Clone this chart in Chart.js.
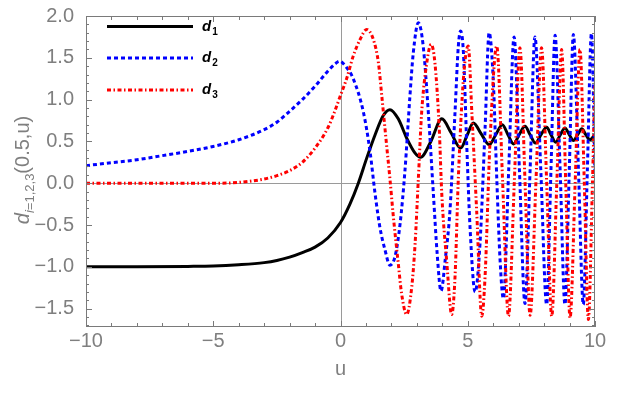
<!DOCTYPE html>
<html>
<head>
<meta charset="utf-8">
<script src="https://cdn.jsdelivr.net/npm/chart.js@4.4.1/dist/chart.umd.min.js"></script>
<style>
  html,body{margin:0;padding:0;background:#fff;}
  #c{display:block;}
</style>
</head>
<body>
<canvas id="c" width="628" height="393"></canvas>
<script>
// values
const xTicks = [-10, -5, 0, 5, 10];
const yTicks = [-1.5, -1.0, -0.5, 0.0, 0.5, 1.0, 1.5, 2.0];

const d1U = [-10,-8,-6,-5,-4,-3,-2.5,-2,-1.5,-1,-0.5,0,0.37,0.7,1.03,1.36,1.68,1.94,2.27,2.6,2.93,3.15,3.55,3.98,4.35,4.72,4.97,5.22,5.53,5.84,6.1,6.36,6.58,6.8,7.02,7.25,7.45,7.66,7.88,8.1,8.27,8.45,8.64,8.82,8.99,9.15,9.32,9.48,9.64,9.8,10];
const d1V = [-1.0,-1.0,-0.995,-0.99,-0.975,-0.95,-0.925,-0.885,-0.83,-0.765,-0.655,-0.47,-0.25,0.0,0.30,0.58,0.81,0.88,0.77,0.54,0.36,0.31,0.5,0.77,0.6,0.42,0.57,0.72,0.59,0.46,0.58,0.70,0.58,0.47,0.58,0.68,0.58,0.48,0.58,0.67,0.58,0.49,0.58,0.66,0.58,0.51,0.58,0.65,0.58,0.52,0.58];

const d2U = [-10,-9,-8,-7,-6,-5,-4,-3,-2.5,-2,-1.5,-1,-0.5,-0.2,-0.05,0.25,0.5,0.9,1.16,1.36,1.55,1.75,1.94,2.14,2.34,2.53,2.73,2.86,3.06,3.25,3.45,3.65,3.8,3.95,4.12,4.3,4.5,4.63,4.72,4.83,4.96,5.09,5.29,5.48,5.68,5.84,6.0,6.14,6.27,6.4,6.61,6.82,7.03,7.25,7.45,7.64,7.87,8.1,8.27,8.43,8.63,8.82,8.99,9.15,9.35,9.54,9.7,9.86,10];
const d2V = [0.21,0.245,0.28,0.33,0.38,0.44,0.52,0.64,0.73,0.86,1.0,1.16,1.34,1.43,1.46,1.38,1.25,0.85,0.38,-0.13,-0.53,-0.80,-0.98,-0.88,-0.49,0.14,1.05,1.56,1.92,1.64,0.85,-0.13,-0.85,-1.29,-0.9,-0.33,0.85,1.64,1.82,1.56,0.46,-0.53,-1.30,-0.73,0.65,1.80,1.25,0.06,-0.92,-1.38,0.17,1.75,0.16,-1.44,0.16,1.75,0.16,-1.45,0.16,1.77,0.16,-1.45,0.16,1.78,0.16,-1.45,0.16,1.79,0.1];

const d3U = [-10,-7,-5,-4,-3,-2.5,-2,-1.5,-1,-0.5,-0.25,0,0.24,0.5,0.77,1.03,1.29,1.49,1.62,1.81,1.94,2.08,2.27,2.4,2.6,2.8,2.93,3.06,3.19,3.39,3.56,3.71,3.88,3.98,4.17,4.37,4.5,4.63,4.83,5.02,5.16,5.35,5.55,5.68,5.87,6.14,6.37,6.6,6.83,7.05,7.25,7.45,7.68,7.9,8.1,8.3,8.5,8.69,8.85,9.02,9.22,9.41,9.58,9.74,9.9,10];
const d3V = [0,0,0,0.01,0.05,0.09,0.15,0.25,0.42,0.66,0.84,1.05,1.25,1.52,1.72,1.84,1.72,1.44,1.05,0.46,0.06,-0.41,-0.96,-1.32,-1.57,-1.24,-0.73,0.06,0.85,1.44,1.66,1.44,0.65,-0.13,-0.92,-1.57,-1.12,0.06,1.25,1.64,0.85,-0.33,-1.59,-1.12,0.46,1.64,0.02,-1.59,0.02,1.62,0.02,-1.58,0.02,1.62,0.02,-1.59,0.01,1.60,0.0,-1.61,0.0,1.60,0.0,-1.63,0.0,1.2];

const pts = (us, vs) => us.map((u,i)=>({x:u, y:vs[i]}));
const minus = s => String(s).replace('-', '\u2212');
const FONT = '"Liberation Sans", Arial, sans-serif';
const GRAY = '#7f7f7f';

// frame, inner ticks and the two zero axes
const framePlugin = {
  id:'frame',
  beforeDatasetsDraw(chart){
    const {ctx, chartArea:a, scales:{x,y}} = chart;
    ctx.save();
    ctx.strokeStyle='#9a9a9a'; ctx.lineWidth=1;
    const x0=Math.round(x.getPixelForValue(0))+0.5, y0=Math.round(y.getPixelForValue(0))+0.5;
    ctx.beginPath(); ctx.moveTo(x0,a.top); ctx.lineTo(x0,a.bottom);
    ctx.moveTo(a.left,y0); ctx.lineTo(a.right,y0); ctx.stroke();
    ctx.restore();
  },
  afterDatasetsDraw(chart){
    const {ctx, chartArea:a, scales:{x,y}} = chart;
    ctx.save();
    ctx.strokeStyle='#7a7a7a'; ctx.lineWidth=1;
    ctx.strokeRect(Math.round(a.left)+0.5, Math.round(a.top)+0.5, Math.round(a.right-a.left)-1, Math.round(a.bottom-a.top)-1);
    ctx.beginPath();
    for(let u=-10; u<=10; u++){
      const px=Math.round(x.getPixelForValue(u))+0.5, len = u%5===0 ? 6 : 4;
      ctx.moveTo(px,a.bottom); ctx.lineTo(px,a.bottom-len);
      ctx.moveTo(px,a.top); ctx.lineTo(px,a.top+len);
    }
    for(let k=-17; k<=20; k++){
      const py=Math.round(y.getPixelForValue(k/10))+0.5, len = k%5===0 ? 6 : 3;
      ctx.moveTo(a.left,py); ctx.lineTo(a.left+len,py);
      ctx.moveTo(a.right,py); ctx.lineTo(a.right-len,py);
    }
    ctx.stroke();
    ctx.restore();
  },
  afterDraw(chart){
    const {ctx} = chart;
    ctx.save();
    // legend
    const rows = [
      {c:'#000', dash:[], n:'1', y:26.5},
      {c:'#0000ff', dash:[4,3], n:'2', y:58},
      {c:'#ff0000', dash:[4,2.5,1.5,2.5], n:'3', y:90}
    ];
    rows.forEach(r=>{
      ctx.strokeStyle=r.c; ctx.lineWidth=3; ctx.setLineDash(r.dash); ctx.lineCap='butt';
      ctx.beginPath(); ctx.moveTo(107,r.y); ctx.lineTo(193,r.y); ctx.stroke();
      ctx.setLineDash([]);
      ctx.fillStyle='#000'; ctx.textBaseline='alphabetic'; ctx.textAlign='left';
      ctx.font='bold italic 15px '+FONT; ctx.fillText('d',202,r.y+4);
      const w=ctx.measureText('d').width;
      ctx.font='bold 10px '+FONT; ctx.fillText(r.n,202+w+1,r.y+8);
    });
    // y title with subscript
    ctx.translate(29,170); ctx.rotate(-Math.PI/2);
    ctx.fillStyle=GRAY; ctx.textBaseline='alphabetic'; ctx.textAlign='left';
    const parts=[
      {t:'d', f:'italic 20px '+FONT, dy:0},
      {t:'i', f:'italic 13px '+FONT, dy:5},
      {t:'=1,2,3', f:'13px '+FONT, dy:5},
      {t:'(0.5,u)', f:'20px '+FONT, dy:0}
    ];
    let tot=0; parts.forEach(p=>{ctx.font=p.f; p.w=ctx.measureText(p.t).width; tot+=p.w;});
    let cx=-tot/2;
    parts.forEach(p=>{ctx.font=p.f; ctx.fillText(p.t,cx,p.dy); cx+=p.w;});
    ctx.restore();
    // x title
    ctx.save();
    ctx.fillStyle=GRAY; ctx.font='20px '+FONT; ctx.textAlign='center'; ctx.textBaseline='middle';
    ctx.fillText('u', chart.scales.x.getPixelForValue(0), 369);
    ctx.restore();
  }
};

new Chart(document.getElementById('c'), {
  type:'line',
  data:{
    datasets:[
      {label:'d1', data:pts(d1U,d1V), borderColor:'#000', borderWidth:3, order:2},
      {label:'d2', data:pts(d2U,d2V), borderColor:'#0000ff', borderWidth:3, borderDash:[4,3], order:1},
      {label:'d3', data:pts(d3U,d3V), borderColor:'#ff0000', borderWidth:3, borderDash:[4,2.5,1.5,2.5], order:0}
    ]
  },
  options:{
    responsive:false, animation:false, devicePixelRatio:1,
    layout:{padding:{left:0, top:12, right:33, bottom:0}},
    elements:{point:{radius:0}, line:{cubicInterpolationMode:'monotone', fill:false, borderCapStyle:'butt'}},
    plugins:{legend:{display:false}, tooltip:{enabled:false}},
    scales:{
      x:{type:'linear', min:-10, max:10,
        grid:{display:false}, border:{display:false},
        afterFit(s){ s.height=66; },
        afterBuildTicks(s){ s.ticks = xTicks.map(v=>({value:v})); },
        ticks:{padding:-6, color:GRAY, font:{family:FONT, size:20}, maxRotation:0, callback:v=>minus(v)}},
      y:{type:'linear', min:-1.72, max:2.0,
        grid:{display:false}, border:{display:false},
        afterFit(s){ s.width=86; },
        afterBuildTicks(s){ s.ticks = yTicks.map(v=>({value:v})); },
        ticks:{padding:4, color:GRAY, font:{family:FONT, size:20}, callback:v=>minus(Number(v).toFixed(1))}}
    }
  },
  plugins:[framePlugin]
});
</script>
</body>
</html>
